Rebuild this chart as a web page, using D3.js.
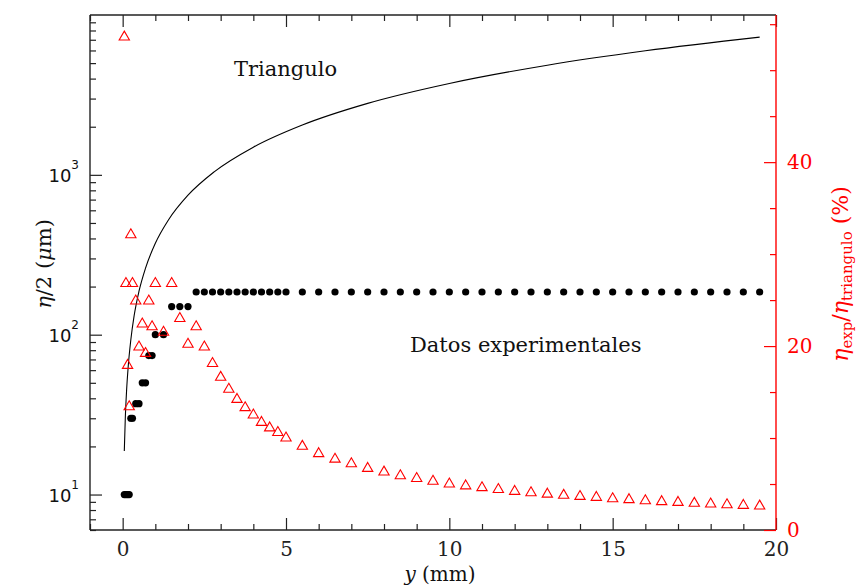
<!DOCTYPE html>
<html><head><meta charset="utf-8">
<script src="https://cdn.jsdelivr.net/npm/d3@7"></script>
<style>body{margin:0;background:#fff}</style>
</head><body><svg id="c" width="857" height="585"></svg>
<script>
// ---- data ----
const yPos = [0.05,0.1,0.15,0.2,0.25,0.3,0.4,0.5,0.6,0.7,0.8,0.9,1.0,1.25,1.5,1.75,2.0,
  2.25,2.5,2.75,3.0,3.25,3.5,3.75,4.0,4.25,4.5,4.75,5.0,
  5.5,6.0,6.5,7.0,7.5,8.0,8.5,9.0,9.5,10.0,10.5,11.0,11.5,12.0,12.5,13.0,13.5,14.0,14.5,
  15.0,15.5,16.0,16.5,17.0,17.5,18.0,18.5,19.0,19.5];
const etaExp = [10,10,10,10,30,30,37,37,50,50,74,74,100,100,150,150,150,
  185,185,185,185,185,185,185,185,185,185,185,185,
  185,185,185,185,185,185,185,185,185,185,185,185,185,185,185,185,185,185,185,
  185,185,185,185,185,185,185,185,185,185];
const ratioPct = [53.6,26.8,17.9,13.4,32.1,26.8,24.9,19.9,22.4,19.2,24.9,22.1,26.8,21.5,26.8,23.0,20.2,
  22.1,19.9,18.1,16.6,15.3,14.2,13.3,12.5,11.7,11.1,10.6,10.0,
  9.1,8.3,7.7,7.2,6.7,6.3,5.9,5.6,5.3,5.0,4.8,4.6,4.4,4.2,4.05,3.9,3.77,3.65,3.55,
  3.4,3.3,3.18,3.08,3.0,2.9,2.83,2.75,2.68,2.6];
const triX = [0.05,0.08,0.12,0.17,0.25,0.35,0.5,0.7,1,1.4,2,2.8,4,5.5,7.5,10,13,16,19.5];
const triEta = [18.7,29.8,44.8,63.4,93,131,187,261,373,522,746,1044,1490,2050,2800,3730,4850,5970,7270];
const xMajor = [0,5,10,15,20];
const yLMajor = [10,100,1000];
const yLExp = ["1","2","3"];
const yRMajor = [0,20,40];
const yRMinor = [5,10,15,25,30,35,45,50,55];

// ---- chart ----
const svg = d3.select("#c");
const L=90,R=776,T=15,B=530;
const x = d3.scaleLinear().domain([-1,20]).range([L,R]);
const yL = d3.scaleLog().domain([6,10000]).range([B,T]);
const yR = d3.scaleLinear().domain([0,56]).range([B,T]);
const AX="#222";
const serif="'DejaVu Serif', serif";

const xMinor = d3.range(-1,21).filter(v=>!xMajor.includes(v));
const yLMinor = [];
[1,10,100,1000].forEach(d=>{for(let k=2;k<=9;k++){const v=d*k; if(v>=6&&v<10000) yLMinor.push(v);}});

function styleAxis(g,col){
  g.select(".domain").remove();
  g.selectAll("line").attr("stroke",col).attr("stroke-width",1.2);
  g.selectAll("text").attr("fill",col).style("font-family",serif).style("font-size","20px");
}
// bottom
svg.append("g").attr("transform",`translate(0,${B})`)
  .call(d3.axisBottom(x).tickValues(xMajor).tickSize(-12).tickPadding(12).tickFormat(d3.format("d")))
  .call(g=>styleAxis(g,AX));
svg.append("g").attr("transform",`translate(0,${B})`)
  .call(d3.axisBottom(x).tickValues(xMinor).tickSize(-6).tickFormat(""))
  .call(g=>styleAxis(g,AX));
// top
svg.append("g").attr("transform",`translate(0,${T})`)
  .call(d3.axisTop(x).tickValues(xMajor).tickSize(-12).tickFormat(""))
  .call(g=>styleAxis(g,AX));
svg.append("g").attr("transform",`translate(0,${T})`)
  .call(d3.axisTop(x).tickValues(xMinor).tickSize(-6).tickFormat(""))
  .call(g=>styleAxis(g,AX));
// left
svg.append("g").attr("transform",`translate(${L},0)`)
  .call(d3.axisLeft(yL).tickValues(yLMajor).tickSize(-12).tickFormat(""))
  .call(g=>styleAxis(g,AX));
svg.append("g").attr("transform",`translate(${L},0)`)
  .call(d3.axisLeft(yL).tickValues(yLMinor).tickSize(-6).tickFormat(""))
  .call(g=>styleAxis(g,AX));
const ll = svg.append("g").selectAll("text").data(yLMajor).join("text")
  .attr("x",79).attr("y",d=>yL(d)+7).attr("text-anchor","end")
  .style("font-family","'DejaVu Sans', sans-serif").style("font-size","18px").attr("fill","#111")
  .text("10");
ll.append("tspan").attr("dy",-13).style("font-size","12px").text((d,i)=>yLExp[i]);

// frame lines
svg.append("line").attr("x1",L).attr("x2",R).attr("y1",T).attr("y2",T).attr("stroke",AX).attr("stroke-width",1.4);
svg.append("line").attr("x1",L).attr("x2",R).attr("y1",B).attr("y2",B).attr("stroke",AX).attr("stroke-width",1.4);
svg.append("line").attr("x1",L).attr("x2",L).attr("y1",T).attr("y2",B).attr("stroke",AX).attr("stroke-width",1.4);

// right axis (red)
const RED="#ff0000";
svg.append("g").attr("transform",`translate(${R},0)`)
  .call(d3.axisRight(yR).tickValues(yRMajor).tickSize(-12).tickPadding(11).tickFormat(d3.format("d")))
  .call(g=>styleAxis(g,RED));
svg.append("g").attr("transform",`translate(${R},0)`)
  .call(d3.axisRight(yR).tickValues(yRMinor).tickSize(-6).tickFormat(""))
  .call(g=>styleAxis(g,RED));
svg.append("line").attr("x1",R).attr("x2",R).attr("y1",T).attr("y2",B).attr("stroke",RED).attr("stroke-width",1.4);

// theoretical curve
svg.append("path")
  .datum(triX.map((v,i)=>[v,triEta[i]]))
  .attr("fill","none").attr("stroke","#000").attr("stroke-width",1.1)
  .attr("d",d3.line().x(d=>x(d[0])).y(d=>yL(d[1])).curve(d3.curveMonotoneX));

// experimental dots
svg.append("g").selectAll("circle").data(yPos).join("circle")
  .attr("cx",d=>x(d)).attr("cy",(d,i)=>yL(etaExp[i])).attr("r",3.6).attr("fill","#000");

// ratio triangles
const tri = d3.symbol().type(d3.symbolTriangle).size(46);
svg.append("g").selectAll("path").data(yPos).join("path")
  .attr("transform",(d,i)=>`translate(${x(d)},${yR(ratioPct[i])})`)
  .attr("d",tri).attr("fill","none").attr("stroke",RED).attr("stroke-width",1.1);

// annotations
svg.append("text").attr("x",234).attr("y",76).style("font-family",serif).style("font-size","21px").attr("fill","#111").text("Triangulo");
svg.append("text").attr("x",410).attr("y",352).style("font-family",serif).style("font-size","21px").attr("fill","#111").text("Datos experimentales");

// axis titles
const xt = svg.append("text").attr("x",440).attr("y",581).attr("text-anchor","middle")
  .style("font-family",serif).style("font-size","20px").attr("fill","#111");
xt.append("tspan").style("font-style","italic").text("y");
xt.append("tspan").text(" (mm)");

const lt = svg.append("text").attr("transform","translate(51,264) rotate(-90)").attr("text-anchor","middle")
  .style("font-family",serif).style("font-size","21px").attr("fill","#111");
lt.append("tspan").style("font-style","italic").text("η");
lt.append("tspan").text("/2 (");
lt.append("tspan").style("font-style","italic").text("μ");
lt.append("tspan").text("m)");

const rt = svg.append("text").attr("transform","translate(848,274) rotate(-90)").attr("text-anchor","middle")
  .style("font-family",serif).style("font-size","22px").attr("fill",RED);
rt.append("tspan").style("font-style","italic").text("η");
rt.append("tspan").attr("dy",4).style("font-size","15px").text("exp");
rt.append("tspan").attr("dy",-4).text("/");
rt.append("tspan").style("font-style","italic").text("η");
rt.append("tspan").attr("dy",4).style("font-size","15px").text("triangulo");
rt.append("tspan").attr("dy",-4).text(" (%)");
</script></body></html>
